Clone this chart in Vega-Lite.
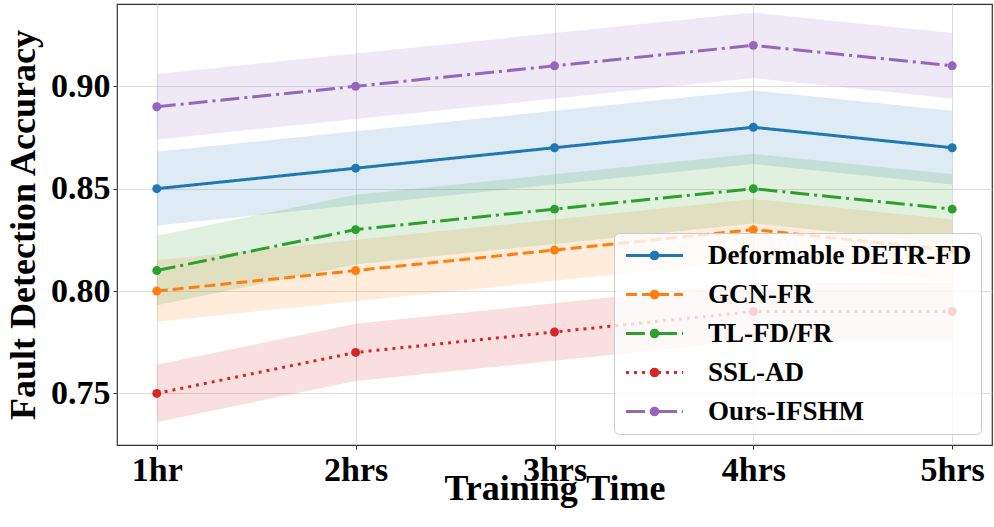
{
  "$schema": "https://vega.github.io/schema/vega-lite/v6.json",
  "width": 875,
  "height": 441,
  "autosize": {"type": "none"},
  "padding": {"left": 117, "top": 4, "right": 2, "bottom": 82},
  "background": "white",
  "config": {
    "font": "Liberation Serif",
    "view": {"stroke": "#333333", "strokeWidth": 1.2},
    "axis": {
      "labelFont": "Liberation Serif",
      "labelFontWeight": "bold",
      "labelFontSize": 34,
      "labelColor": "black",
      "titleFont": "Liberation Serif",
      "titleFontWeight": "bold",
      "titleFontSize": 36,
      "titleColor": "black",
      "gridColor": "#dddddd",
      "gridWidth": 1,
      "domain": false,
      "tickColor": "#333333",
      "tickSize": 4,
      "tickWidth": 1
    }
  },
  "data": {
    "values": [
      {"method": "Deformable DETR-FD", "time": "1hr", "value": 0.85, "lower": 0.832, "upper": 0.868},
      {"method": "Deformable DETR-FD", "time": "2hrs", "value": 0.86, "lower": 0.842, "upper": 0.878},
      {"method": "Deformable DETR-FD", "time": "3hrs", "value": 0.87, "lower": 0.852, "upper": 0.888},
      {"method": "Deformable DETR-FD", "time": "4hrs", "value": 0.88, "lower": 0.862, "upper": 0.898},
      {"method": "Deformable DETR-FD", "time": "5hrs", "value": 0.87, "lower": 0.852, "upper": 0.888},
      {"method": "GCN-FR", "time": "1hr", "value": 0.80, "lower": 0.785, "upper": 0.815},
      {"method": "GCN-FR", "time": "2hrs", "value": 0.81, "lower": 0.795, "upper": 0.825},
      {"method": "GCN-FR", "time": "3hrs", "value": 0.82, "lower": 0.805, "upper": 0.835},
      {"method": "GCN-FR", "time": "4hrs", "value": 0.83, "lower": 0.815, "upper": 0.845},
      {"method": "GCN-FR", "time": "5hrs", "value": 0.82, "lower": 0.805, "upper": 0.835},
      {"method": "TL-FD/FR", "time": "1hr", "value": 0.81, "lower": 0.793, "upper": 0.827},
      {"method": "TL-FD/FR", "time": "2hrs", "value": 0.83, "lower": 0.813, "upper": 0.847},
      {"method": "TL-FD/FR", "time": "3hrs", "value": 0.84, "lower": 0.823, "upper": 0.857},
      {"method": "TL-FD/FR", "time": "4hrs", "value": 0.85, "lower": 0.833, "upper": 0.867},
      {"method": "TL-FD/FR", "time": "5hrs", "value": 0.84, "lower": 0.823, "upper": 0.857},
      {"method": "SSL-AD", "time": "1hr", "value": 0.75, "lower": 0.736, "upper": 0.764},
      {"method": "SSL-AD", "time": "2hrs", "value": 0.77, "lower": 0.756, "upper": 0.784},
      {"method": "SSL-AD", "time": "3hrs", "value": 0.78, "lower": 0.766, "upper": 0.794},
      {"method": "SSL-AD", "time": "4hrs", "value": 0.79, "lower": 0.776, "upper": 0.804},
      {"method": "SSL-AD", "time": "5hrs", "value": 0.79, "lower": 0.776, "upper": 0.804},
      {"method": "Ours-IFSHM", "time": "1hr", "value": 0.89, "lower": 0.874, "upper": 0.906},
      {"method": "Ours-IFSHM", "time": "2hrs", "value": 0.90, "lower": 0.884, "upper": 0.916},
      {"method": "Ours-IFSHM", "time": "3hrs", "value": 0.91, "lower": 0.894, "upper": 0.926},
      {"method": "Ours-IFSHM", "time": "4hrs", "value": 0.92, "lower": 0.904, "upper": 0.936},
      {"method": "Ours-IFSHM", "time": "5hrs", "value": 0.91, "lower": 0.894, "upper": 0.926}
    ]
  },
  "encoding": {
    "x": {
      "field": "time",
      "type": "ordinal",
      "sort": ["1hr", "2hrs", "3hrs", "4hrs", "5hrs"],
      "scale": {"type": "point", "padding": 0.2},
      "axis": {"title": "Training Time", "labelAngle": 0, "labelPadding": 4, "titlePadding": -16, "grid": true}
    },
    "color": {
      "field": "method",
      "type": "nominal",
      "scale": {
        "domain": ["Deformable DETR-FD", "GCN-FR", "TL-FD/FR", "SSL-AD", "Ours-IFSHM"],
        "range": ["#1f77b4", "#ff7f0e", "#2ca02c", "#d62728", "#9467bd"]
      },
      "legend": {
        "title": null,
        "orient": "bottom-right",
        "offset": 11,
        "labelFont": "Liberation Serif",
        "labelFontWeight": "bold",
        "labelFontSize": 27,
        "labelColor": "black",
        "labelLimit": 400,
        "labelOffset": 40,
        "symbolOffset": 18,
        "symbolType": "M-2.85,0L2.85,0M0.33,0A0.33,0.33,0,1,1,-0.33,0A0.33,0.33,0,1,1,0.33,0M0.33,0A0.33,0.33,0,0,1,0.2333,0.2333M0.2333,0.2333A0.33,0.33,0,0,1,0,0.33M0,0.33A0.33,0.33,0,0,1,-0.2333,0.2333M-0.2333,0.2333A0.33,0.33,0,0,1,-0.33,0M-0.33,0A0.33,0.33,0,0,1,-0.2333,-0.2333M-0.2333,-0.2333A0.33,0.33,0,0,1,0,-0.33M0,-0.33A0.33,0.33,0,0,1,0.2333,-0.2333M0.2333,-0.2333A0.33,0.33,0,0,1,0.33,0",
        "symbolSize": 400,
        "symbolStrokeWidth": 3,
        "rowPadding": 11,
        "padding": 9,
        "fillColor": "rgba(255,255,255,0.8)",
        "strokeColor": "#cccccc",
        "cornerRadius": 5,
        "encode": {
          "symbols": {"update": {"fill": {"scale": "color", "field": "value"}, "stroke": {"scale": "color", "field": "value"}, "fillOpacity": {"value": 1}, "strokeOpacity": {"value": 1}, "opacity": {"value": 1}}}
        }
      }
    }
  },
  "layer": [
    {
      "mark": {"type": "area", "opacity": 0.15},
      "encoding": {
        "y": {
          "field": "lower",
          "type": "quantitative",
          "scale": {"domain": [0.7248, 0.9402], "nice": false, "zero": false},
          "axis": {"title": "Fault Detection Accuracy", "values": [0.75, 0.8, 0.85, 0.9], "format": ".2f", "labelPadding": 3, "titlePadding": 8, "grid": true}
        },
        "y2": {"field": "upper"}
      }
    },
    {
      "mark": {"type": "line", "strokeWidth": 3},
      "encoding": {
        "y": {"field": "value", "type": "quantitative"},
        "strokeDash": {
          "field": "method",
          "type": "nominal",
          "scale": {
            "domain": ["Deformable DETR-FD", "GCN-FR", "TL-FD/FR", "SSL-AD", "Ours-IFSHM"],
            "range": [[1, 0], [11, 5], [19, 5, 3, 5], [3, 5], [19, 5, 3, 5]]
          },
          "legend": null
        }
      }
    },
    {
      "mark": {"type": "point", "filled": true, "size": 80, "opacity": 1},
      "encoding": {
        "y": {"field": "value", "type": "quantitative"}
      }
    }
  ]
}
